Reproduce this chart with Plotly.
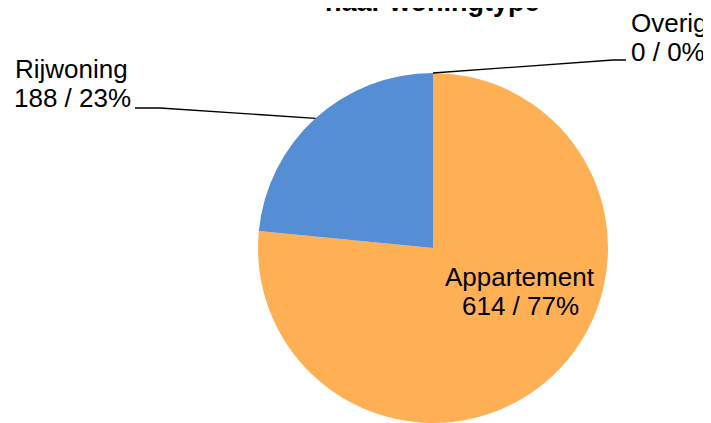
import math
import plotly.graph_objects as go

# Woningen naar woningtype
labels = ["Appartement", "Rijwoning", "Overig"]
values = [614, 188, 0]
colors = ["#FFB055", "#558ED5", "#A5A5A5"]

W, H = 711, 423
OFF = 8  # page body margin, positions below are page pixels
FONT = "Liberation Sans, Arial, sans-serif"

# pie placement in page pixels
cx, cy, r = 433, 248, 175


def px(x, y):
    return (x - OFF) / W, 1 - (y - OFF) / H


x0, y0 = px(cx - r, cy - r)
x1, _ = px(cx + r, cy + r)

fig = go.Figure(go.Pie(
    labels=labels,
    values=values,
    marker=dict(colors=colors, line=dict(width=0)),
    sort=False,
    direction="clockwise",
    rotation=0,
    textinfo="none",
    hoverinfo="label+value+percent",
    domain=dict(x=[x0, x1], y=[y0 - 2 * r / H, y0]),
    showlegend=False,
))

total = sum(values)


def edge_point(i):
    # middle of slice i on the rim, clockwise from 12 o'clock
    start = sum(values[:i]) / total
    mid = start + values[i] / total / 2
    a = 2 * math.pi * mid
    return cx + r * math.sin(a), cy - r * math.cos(a)


def pct(v):
    return f"{round(v / total * 100)}%"


def text_line(txt, x, y, anchor, size=26, bold=False):
    xp, yp = px(x, y)
    fig.add_annotation(
        text=f"<b>{txt}</b>" if bold else txt,
        x=xp, y=yp, xref="paper", yref="paper",
        xanchor=anchor, yanchor="middle", showarrow=False,
        font=dict(family=FONT, size=size, color="#000000"),
    )


# title, mostly outside the picture
text_line("naar woningtype", 432, 2, "center", size=27, bold=True)

# Appartement (inside)
text_line(labels[0], 520, 277, "center")
text_line(f"{values[0]} / {pct(values[0])}", 520, 306, "center")

# Rijwoning (outside left)
text_line(labels[1], 13, 69, "left")
text_line(f"{values[1]} / {pct(values[1])}", 12, 98, "left")

# Overig (outside top right)
text_line(labels[2], 629, 23, "left")
text_line(f"{values[2]} / {pct(values[2])}", 629, 52, "left")

# leader lines
ex, ey = edge_point(1)
pts = [(135, 108), (160, 108), (ex, ey)]
ex, ey = edge_point(2)
pts2 = [(ex, ey), (613, 60), (626, 60)]
for seg in (pts, pts2):
    path = "M " + " L ".join(f"{px(x, y)[0]},{px(x, y)[1]}" for x, y in seg)
    fig.add_shape(type="path", path=path, xref="paper", yref="paper",
                  line=dict(color="#000000", width=1.3))

fig.update_layout(
    width=W, height=H,
    margin=dict(l=0, r=0, t=0, b=0),
    paper_bgcolor="white",
    plot_bgcolor="white",
)

fig.write_html("out.html")
